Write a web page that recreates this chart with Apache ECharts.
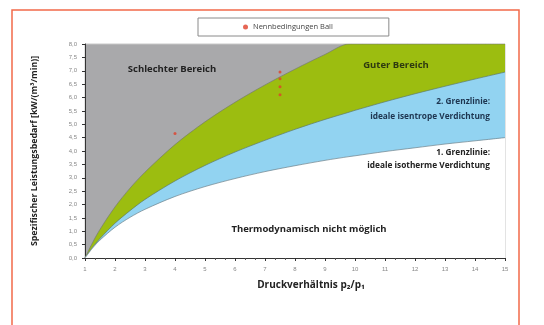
<!DOCTYPE html>
<html>
<head>
<meta charset="utf-8">
<script src="https://cdn.jsdelivr.net/npm/echarts@6/dist/echarts.min.js"></script>
<style>
html,body{margin:0;padding:0;background:#fff;}
#c{width:544px;height:325px;}
</style>
</head>
<body>
<div id="c"></div>
<script>
// Pressure ratio p2/p1
var xVals = [1, 1.25, 1.5, 2, 2.5, 3, 4, 5, 6, 7, 8, 9, 9.8, 10, 11, 12, 13, 14, 15];
// 1. Grenzlinie: ideale isotherme Verdichtung
var isotherm = [0, 0.37, 0.67, 1.15, 1.52, 1.82, 2.30, 2.67, 2.97, 3.23, 3.45, 3.65, 3.79, 3.82, 3.98, 4.12, 4.26, 4.38, 4.50];
// 2. Grenzlinie: ideale isentrope Verdichtung
var isentrop = [0, 0.39, 0.73, 1.30, 1.77, 2.19, 2.88, 3.46, 3.96, 4.40, 4.81, 5.18, 5.45, 5.52, 5.84, 6.14, 6.42, 6.69, 6.95];
// Boundary between "Guter Bereich" and "Schlechter Bereich" (plot top at 8)
var gutGrenze = [0, 0.57, 1.07, 1.91, 2.61, 3.21, 4.24, 5.09, 5.82, 6.47, 7.06, 7.61, 8.0, 8.0, 8.0, 8.0, 8.0, 8.0, 8.0];
// Nennbedingungen Ball
var nennX = [4, 7.5, 7.5, 7.5, 7.5];
var nennY = [4.65, 6.1, 6.4, 6.7, 6.95];

function pairs(xs, ys){ return xs.map(function(x,i){ return [x, ys[i]]; }); }

var chart = echarts.init(document.getElementById('c'), null, {renderer:'canvas'});
var boldTxt = {fontFamily:'Open Sans', fontWeight:'bold', fontSize:9.5};
chart.setOption({
  animation:false,
  backgroundColor:'#fff',
  grid:{left:85, right:39, top:44, bottom:67, show:true, backgroundColor:'#a9a9ab', borderColor:'#c8c8c8', borderWidth:1},
  legend:{
    left:198, top:18, padding:[5,56,5,45], borderColor:'#8a8a8a', borderWidth:1,
    itemWidth:5, itemHeight:5, itemGap:4,
    textStyle:{fontSize:7.5, color:'#444', fontFamily:'Open Sans'},
    data:[{name:'Nennbedingungen Ball', icon:'circle'}]
  },
  xAxis:{
    type:'value', min:1, max:15, interval:1,
    name:'Druckverhältnis p₂/p₁', nameLocation:'middle', nameGap:22,
    nameTextStyle:{fontFamily:'Open Sans', fontWeight:'bold', fontSize:10, color:'#222', padding:[0,0,0,32]},
    axisLine:{lineStyle:{color:'#333', width:1}},
    axisTick:{show:true, length:3, lineStyle:{color:'#333'}},
    minorTick:{show:true, splitNumber:3, length:2, lineStyle:{color:'#555'}},
    splitLine:{show:false},
    axisLabel:{fontSize:6, color:'#888', margin:8}
  },
  yAxis:{
    type:'value', min:0, max:8, interval:0.5,
    name:'Spezifischer Leistungsbedarf [kW/(m³/min)]', nameLocation:'middle', nameGap:46,
    nameTextStyle:{fontFamily:'Open Sans', fontWeight:'bold', fontSize:8.8, color:'#222'},
    axisLine:{show:true, lineStyle:{color:'#333', width:1}},
    axisTick:{show:true, length:3, lineStyle:{color:'#333'}},
    splitLine:{show:false},
    axisLabel:{fontSize:6, color:'#888', margin:8, formatter:function(v){ return v.toFixed(1).replace('.', ','); }}
  },
  series:[
    {type:'line', name:'gut', data:pairs(xVals, gutGrenze), symbol:'none', smooth:0.3,
     lineStyle:{color:'#767d6a', width:0.7}, areaStyle:{color:'#9cbd10', opacity:1, origin:'start'}, z:2, silent:true},
    {type:'line', name:'isentrop', data:pairs(xVals, isentrop), symbol:'none', smooth:0.3,
     lineStyle:{color:'#5f7a6a', width:0.7}, areaStyle:{color:'#92d3f1', opacity:1, origin:'start'}, z:3, silent:true},
    {type:'line', name:'isotherm', data:pairs(xVals, isotherm), symbol:'none', smooth:0.3,
     lineStyle:{color:'#6a7f8a', width:0.7}, areaStyle:{color:'#ffffff', opacity:1, origin:'start'}, z:4, silent:true},
    {type:'scatter', name:'Nennbedingungen Ball', data:pairs(nennX, nennY), symbol:'circle', symbolSize:3,
     itemStyle:{color:'#e0402a'}, z:6}
  ],
  graphic:[
    {type:'rect', shape:{x:12, y:10, width:507, height:330}, style:{fill:'none', stroke:'#f26a4a', lineWidth:1.5}, silent:true},
    {type:'text', x:172, y:69, style:Object.assign({text:'Schlechter Bereich', fill:'#222', align:'center', verticalAlign:'middle'}, boldTxt), z:10},
    {type:'text', x:396, y:65, style:Object.assign({text:'Guter Bereich', fill:'#2e3a10', align:'center', verticalAlign:'middle'}, boldTxt), z:10},
    {type:'text', x:490, y:102, style:Object.assign({text:'2. Grenzlinie:', fill:'#1d3550', align:'right', verticalAlign:'middle'}, boldTxt, {fontSize:8.3}), z:10},
    {type:'text', x:490, y:117, style:Object.assign({text:'ideale isentrope Verdichtung', fill:'#1d3550', align:'right', verticalAlign:'middle'}, boldTxt, {fontSize:8.3}), z:10},
    {type:'text', x:490, y:153, style:Object.assign({text:'1. Grenzlinie:', fill:'#222', align:'right', verticalAlign:'middle'}, boldTxt, {fontSize:8.3}), z:10},
    {type:'text', x:490, y:166, style:Object.assign({text:'ideale isotherme Verdichtung', fill:'#222', align:'right', verticalAlign:'middle'}, boldTxt, {fontSize:8.3}), z:10},
    {type:'text', x:309, y:229, style:Object.assign({text:'Thermodynamisch nicht möglich', fill:'#222', align:'center', verticalAlign:'middle'}, boldTxt), z:10}
  ]
});
</script>
</body>
</html>
